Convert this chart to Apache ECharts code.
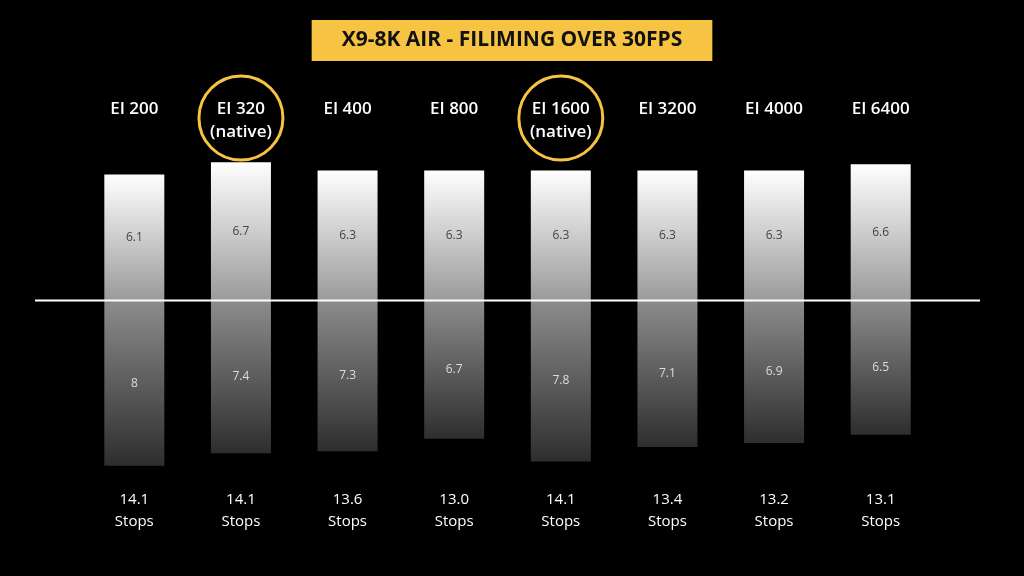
<!DOCTYPE html>
<html>
<head>
<meta charset="utf-8">
<script src="https://cdn.jsdelivr.net/npm/echarts@6/dist/echarts.min.js"></script>
<style>html,body{margin:0;background:#000}#c{width:1024px;height:576px}</style>
</head>
<body>
<div id="c"></div>
<script>
const isoLabels = ["EI 200", "EI 320", "EI 400", "EI 800", "EI 1600", "EI 3200", "EI 4000", "EI 6400"];
const nativeIso = ["EI 320", "EI 1600"];
const aboveValues = [6.1, 6.7, 6.3, 6.3, 6.3, 6.3, 6.3, 6.6];
const belowValues = [8, 7.4, 7.3, 6.7, 7.8, 7.1, 6.9, 6.5];
const stops = ["14.1", "14.1", "13.6", "13.0", "14.1", "13.4", "13.2", "13.1"];

const chart = echarts.init(document.getElementById("c"));
const font = "Open Sans";

chart.setOption({
  backgroundColor: "#000",
  animation: false,
  title: {
    text: "X9-8K AIR - FILIMING OVER 30FPS",
    left: "center",
    top: 20,
    backgroundColor: "#f6c343",
    padding: [10, 30, 10, 30],
    textStyle: { color: "#111", fontSize: 21, fontWeight: "bold", fontFamily: font }
  },
  grid: { left: 81, right: 90, top: 125, bottom: 100 },
  xAxis: [
    {
      type: "category",
      data: isoLabels,
      position: "top",
      offset: -27,
      axisLine: { show: false },
      axisTick: { show: false },
      axisLabel: {
        color: "#fff",
        fontSize: 17,
        fontWeight: 600,
        fontFamily: font,
        lineHeight: 23,
        formatter: (v) => nativeIso.includes(v) ? v + "\n(native)" : v + "\n "
      }
    },
    {
      type: "category",
      data: stops,
      position: "bottom",
      axisLine: { show: false },
      axisTick: { show: false },
      axisLabel: {
        color: "#fff",
        fontSize: 15,
        fontFamily: font,
        lineHeight: 22,
        margin: 13,
        formatter: (v) => v + "\nStops"
      }
    }
  ],
  yAxis: { type: "value", min: -8.5, max: 8.5, show: false, splitLine: { show: false } },
  series: [
    {
      type: "bar",
      data: aboveValues,
      barWidth: 60,
      barGap: "-100%",
      itemStyle: {
        color: new echarts.graphic.LinearGradient(0, 0, 0, 1, [
          { offset: 0, color: "#ffffff" },
          { offset: 1, color: "#9a9a9a" }
        ])
      },
      label: { show: true, position: "inside", color: "#444", fontSize: 12, fontFamily: font }
    },
    {
      type: "bar",
      data: belowValues.map((v) => -v),
      barWidth: 60,
      itemStyle: {
        color: new echarts.graphic.LinearGradient(0, 0, 0, 1, [
          { offset: 0, color: "#8c8c8c" },
          { offset: 1, color: "#2e2e2e" }
        ])
      },
      label: {
        show: true, position: "inside", color: "#ddd", fontSize: 12, fontFamily: font,
        formatter: (p) => String(-p.value)
      }
    }
  ]
});

// 零线和 native 圈
const zeroY = chart.convertToPixel({ yAxisIndex: 0 }, 0);
const rings = nativeIso.map((name) => ({
  type: "circle",
  shape: { cx: chart.convertToPixel({ xAxisIndex: 0 }, name), cy: 118, r: 42 },
  style: { fill: "none", stroke: "#f6c343", lineWidth: 3 }
}));
chart.setOption({
  graphic: [
    { type: "line", shape: { x1: 35, y1: zeroY, x2: 980, y2: zeroY }, style: { stroke: "#fff", lineWidth: 2 }, z: 100 },
    ...rings
  ]
});
</script>
</body>
</html>
